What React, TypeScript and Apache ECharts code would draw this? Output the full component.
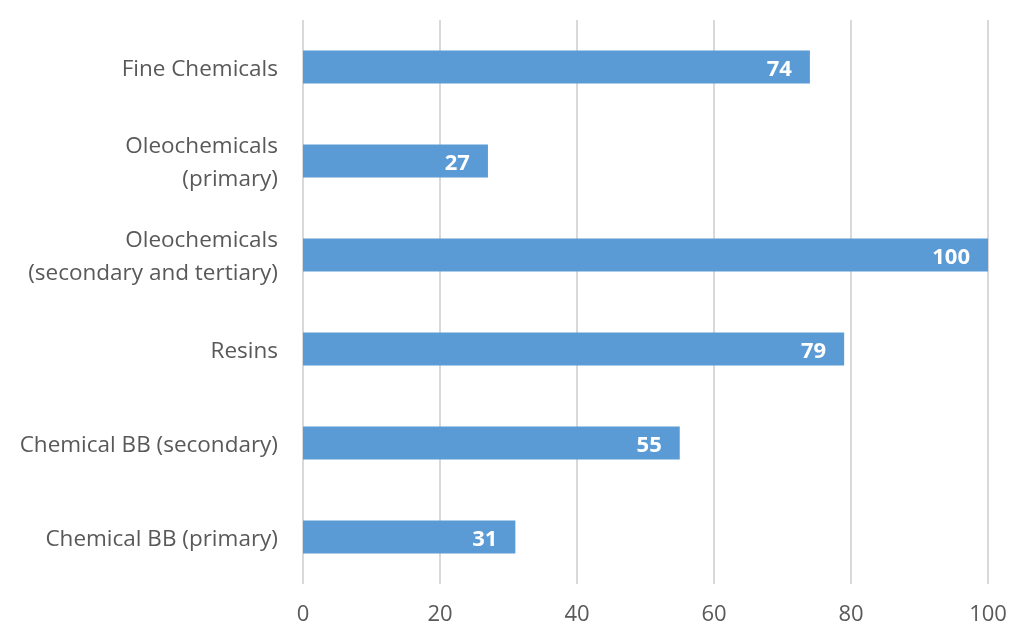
import React, { useEffect, useRef } from "react";
import * as echarts from "echarts";

const categories = [
  "Chemical BB (primary)",
  "Chemical BB (secondary)",
  "Resins",
  "Oleochemicals\n(secondary and tertiary)",
  "Oleochemicals\n(primary)",
  "Fine Chemicals",
];
const values = [31, 55, 79, 100, 27, 74];
const xTicks = [0, 20, 40, 60, 80, 100];

const FONT = "Open Sans";

export default function App() {
  const ref = useRef<HTMLDivElement>(null);
  useEffect(() => {
    document.body.style.overflow = "hidden";
    const chart = echarts.init(ref.current!, null, { renderer: "svg" });
    chart.setOption({
      animation: false,
      grid: { left: 303, right: 23, top: 20, bottom: 42, containLabel: false },
      xAxis: {
        type: "value",
        min: xTicks[0],
        max: xTicks[xTicks.length - 1],
        interval: 20,
        axisLine: { show: false },
        axisTick: { show: false },
        splitLine: { lineStyle: { color: "#d9d9d9", width: 2 } },
        axisLabel: {
          color: "#595959",
          fontSize: 22,
          lineHeight: 22,
          fontFamily: FONT,
          margin: 17,
        },
      },
      yAxis: {
        type: "category",
        data: categories,
        axisLine: { show: false },
        axisTick: { show: false },
        axisLabel: {
          color: "#595959",
          fontSize: 22.5,
          fontFamily: FONT,
          margin: 25,
          lineHeight: 33,
        },
      },
      series: [
        {
          type: "bar",
          data: values,
          barWidth: "35%",
          itemStyle: { color: "#5b9bd5" },
          label: {
            show: true,
            position: "insideRight",
            color: "#ffffff",
            fontWeight: "bold",
            fontSize: 22,
            fontFamily: FONT,
            distance: 18,
          },
        },
      ],
    });
    return () => chart.dispose();
  }, []);
  return (
    <div
      ref={ref}
      style={{ position: "fixed", left: 0, top: 0, width: 1011, height: 626 }}
    />
  );
}
